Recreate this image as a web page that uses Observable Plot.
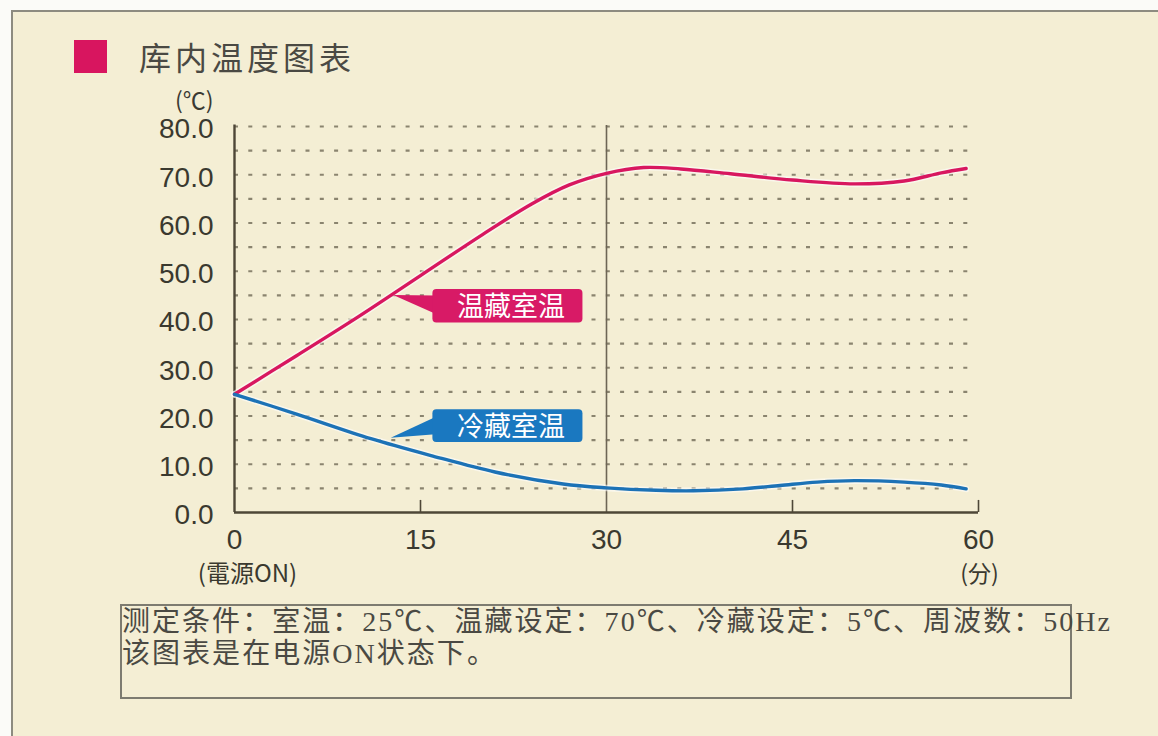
<!DOCTYPE html>
<html>
<head>
<meta charset="utf-8">
<script src="https://cdn.jsdelivr.net/npm/d3@7"></script>
<script src="https://cdn.jsdelivr.net/npm/@observablehq/plot@0.6"></script>
<style>
  html, body { margin: 0; padding: 0; background: #fbfbf8; }
  #wrap { position: relative; width: 1158px; height: 736px; overflow: hidden; background: #fbfbf8; }
  #frame { position: absolute; left: 11px; top: 10px; width: 1160px; height: 740px; background: #f4eed4; border: 2px solid #8d8b80; }
  #sq { position: absolute; left: 74px; top: 40px; width: 33px; height: 33px; background: #d8155f; }
  #title { position: absolute; left: 139px; top: 34px; font-family: "Noto Sans CJK SC"; font-size: 32px; line-height: 44px; color: #4a4943; letter-spacing: 4px; white-space: nowrap; }
  #unit { position: absolute; left: 175px; top: 84px; font-family: "Noto Sans CJK SC"; font-size: 23px; line-height: 30px; color: #3b3a33; white-space: nowrap; }
  #chart { position: absolute; left: 0; top: 0; }
  #note { position: absolute; left: 120px; top: 604px; width: 952px; height: 95px; border: 2px solid #7d7b70; box-sizing: border-box; }
  #noteText { position: absolute; left: 122px; top: 606px; font-family: "Liberation Serif", "Noto Sans CJK SC"; font-size: 28px; line-height: 32px; color: #4a4943; white-space: nowrap; }
</style>
</head>
<body>
<div id="wrap">
  <div id="frame"></div>
  <div id="sq"></div>
  <div id="title"></div>
  <div id="unit"></div>
  <div id="chart"></div>
  <div id="note"></div>
  <div id="noteText"><div id="l1"></div><div id="l2"></div></div>
</div>
<script>
// ---- data ----
const titleText = "库内温度图表";
const unitText = "(℃)";
const noteLines = ["测定条件：室温：25℃、温藏设定：70℃、冷藏设定：5℃、周波数：50Hz", "该图表是在电源ON状态下。"];

const seriesNames = ["温藏室温", "冷藏室温"];
const warmMinutes = [0, 5, 10, 15, 20, 24, 27, 30, 33, 36, 40, 45, 50, 54, 57, 59];
const warmTemps   = [24.5, 32.5, 40.6, 49.1, 57.6, 64.0, 67.9, 70.3, 71.5, 71.2, 70.2, 68.9, 68.1, 68.7, 70.4, 71.3];
const coldMinutes = [0, 5, 11, 16, 21, 26.5, 30, 34, 37, 41, 44, 47, 50, 54, 57, 59];
const coldTemps   = [24.5, 20.4, 15.3, 11.7, 8.4, 5.9, 5.1, 4.6, 4.5, 4.9, 5.6, 6.3, 6.6, 6.3, 5.7, 4.9];

const xTicks = [0, 15, 30, 45, 60];
const yTicks = [0, 10, 20, 30, 40, 50, 60, 70, 80];
const gridValues = [5, 10, 15, 20, 25, 30, 35, 40, 45, 50, 55, 60, 65, 70, 75, 80];
const xSubLabels = ["(電源ON)", "(分)"];
const markerMinute = 30;

// callout annotations (data units: minutes, ℃)
const calloutBoxMinutes = [16.0, 28.1];
const calloutBoxTemps = [[39.3, 46.2], [14.5, 21.3]];
const pointerTips = [[12.8, 45.1], [12.6, 15.5]];
const pointerBaseTemps = [[45.0, 41.2], [19.8, 16.2]];

const colors = {"温藏室温": "#d8175f", "冷藏室温": "#1c72b6"};
const boxColors = {"温藏室温": "#d81a66", "冷藏室温": "#1a78c0"};

// ---- build tables ----
const lineData = [
  ...warmMinutes.map((m, i) => ({series: seriesNames[0], minute: m, temp: warmTemps[i]})),
  ...coldMinutes.map((m, i) => ({series: seriesNames[1], minute: m, temp: coldTemps[i]}))
];
const boxes = seriesNames.map((s, i) => ({series: s, x1: calloutBoxMinutes[0], x2: calloutBoxMinutes[1], y1: calloutBoxTemps[i][0], y2: calloutBoxTemps[i][1]}));
const pointers = seriesNames.flatMap((s, i) => [
  {series: s, minute: pointerTips[i][0], temp: pointerTips[i][1]},
  {series: s, minute: calloutBoxMinutes[0] + 0.2, temp: pointerBaseTemps[i][0]},
  {series: s, minute: calloutBoxMinutes[0] + 0.2, temp: pointerBaseTemps[i][1]}
]);

document.getElementById("title").textContent = titleText;
document.getElementById("unit").textContent = unitText;
document.getElementById("l1").textContent = noteLines[0];
document.getElementById("l2").textContent = noteLines[1];

const axisColor = "#4e4737";
const W = 1158, H = 600;

const chart = Plot.plot({
  width: W,
  height: H,
  marginLeft: 234,
  marginRight: W - 978,
  marginTop: 126,
  marginBottom: H - 512,
  x: {domain: [0, 60]},
  y: {domain: [0, 80]},
  style: {background: "transparent", fontFamily: "'Liberation Sans', Arial, sans-serif", color: "#3a392f"},
  marks: [
    Plot.ruleY(gridValues, {x1: 0, x2: 59.3, stroke: "#8a846f", strokeWidth: 2.2, strokeDasharray: "4,10.3"}),
    Plot.ruleX([markerMinute], {y1: 0, y2: 80.2, stroke: "#6d6555", strokeWidth: 1.6}),
    Plot.ruleX([15, 45, 60], {y1: 0, y2: 2.5, stroke: axisColor, strokeWidth: 1.6}),
    Plot.ruleX([0], {y1: 0, y2: 80.3, stroke: axisColor, strokeWidth: 2.4}),
    Plot.ruleY([0], {x1: 0, x2: 60, stroke: axisColor, strokeWidth: 2.4}),
    Plot.axisY(yTicks, {tickSize: 0, tickPadding: 21, fontSize: 28, dy: 3, tickFormat: d => d.toFixed(1), label: null}),
    Plot.axisX(xTicks, {tickSize: 0, tickPadding: 17, fontSize: 28, label: null}),
    Plot.text([xSubLabels[0]], {x: 0, y: 0, text: d => d, dx: 13, dy: 62, fontSize: 24, fontFamily: "'Noto Sans CJK JP'", fill: "#3a392f"}),
    Plot.text([xSubLabels[1]], {x: 60, y: 0, text: d => d, dx: 1, dy: 62, fontSize: 23, fontFamily: "'Noto Sans CJK JP'", fill: "#3a392f"}),
    Plot.line(lineData, {x: "minute", y: "temp", z: "series", stroke: "#ffffff", strokeOpacity: 0.55, strokeWidth: 6.5, curve: "catmull-rom"}),
    Plot.line(lineData, {x: "minute", y: "temp", z: "series", stroke: d => colors[d.series], strokeWidth: 3.4, curve: "catmull-rom"}),
    Plot.line(pointers, {x: "minute", y: "temp", z: "series", fill: d => boxColors[d.series], stroke: "none", curve: "linear-closed"}),
    Plot.rect(boxes, {x1: "x1", x2: "x2", y1: "y1", y2: "y2", rx: 4, fill: d => boxColors[d.series]}),
    Plot.text(boxes, {x: d => (d.x1 + d.x2) / 2, y: d => (d.y1 + d.y2) / 2, text: "series", fill: "white", fontSize: 27, fontFamily: "'Noto Sans CJK SC'", dx: 3, dy: 1, ariaLabel: "callout"})
  ]
});
document.getElementById("chart").appendChild(chart);
d3.select(chart).selectAll('g[aria-label="callout"] text').style("letter-spacing", "4px");

// fit the first note line to its measured width in the reference
const l1 = document.getElementById("l1");
const l2 = document.getElementById("l2");
const target = 990;
l1.style.display = "inline-block";
const w0 = l1.getBoundingClientRect().width;
const n = [...noteLines[0]].length;
const ls = (target - w0) / n;
l1.style.letterSpacing = ls + "px";
l2.style.letterSpacing = ls + "px";
l1.style.display = "block";
</script>
</body>
</html>
